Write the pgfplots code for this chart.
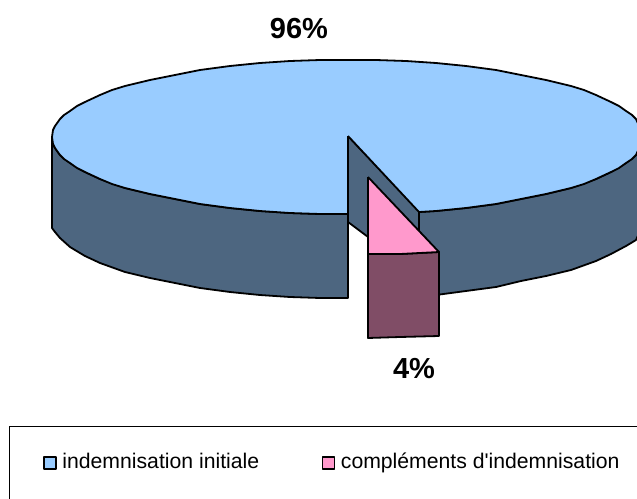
\documentclass[border=0pt]{standalone}
\usepackage{pgfplots}
\pgfplotsset{compat=1.18}
\usepackage{fontspec}
\setmainfont{Liberation Sans}
\definecolor{blueT}{HTML}{99CCFF}
\definecolor{blueS}{HTML}{4D6680}
\definecolor{pinkT}{HTML}{FF99CC}
\definecolor{pinkS}{HTML}{804D66}
\begin{document}
\begin{tikzpicture}
\begin{axis}[
  width=637pt,height=498pt,scale only axis,
  xmin=0,xmax=637,ymin=0,ymax=498,y dir=reverse,
  hide axis,
  every axis plot/.append style={line width=1.8pt,line join=round,draw=black},
  legend columns=2,
  legend style={at={(axis cs:43,463)},anchor=west,draw=none,fill=none,font=\fontsize{21.2}{24}\selectfont,
    /tikz/every even column/.append style={column sep=60.5pt},inner sep=0pt,
    nodes={inner sep=2pt,text depth=4.5pt}},
  legend image code/.code={\draw[#1,line width=1.4pt] (0pt,-6pt) rectangle (12pt,6pt);\path[draw=none,fill=none] (0pt,0pt) -- (16.5pt,0pt);},
]
% side, left part
\addplot[fill=blueS,forget plot] coordinates {
(52,137)(52,228)(55,232)(60,238)(70,247)(85,256)(100,263)(125,272)(150,278)(175,283)(200,288)(230,292)(260,295)(290,297)(320,298)(348,298)(348,214)
(320,214)(290,213)(260,211)(230,208)(200,204)(175,199)(150,194)(125,188)(100,179)(85,172)(70,163)(60,155)(55,148)(53,144)(52,137)};
% side, right part
\addplot[fill=blueS,forget plot] coordinates {
(419,212)(419,296)(436,295)(466,291)(496,287)(521,281)(546,276)(571,270)(596,261)(611,254)(626,246)(636,240)(644,222)(644,137)
(636,155)(626,163)(611,172)(596,179)(571,188)(546,194)(521,199)(496,204)(466,208)(436,211)(419,212)};
% cut wall
\addplot[fill=blueS,forget plot] coordinates {(348,136)(419,211)(419,275)(348,222)(348,136)};
% top face of the large slice
\addplot[fill=blueT,forget plot] coordinates {
(348,136)(348,214)(320,214)(290,213)(260,211)(230,208)(200,204)(175,199)(150,194)(125,188)(112,184)(100,179)(85,172)(77,168)(70,163)(64,159)(60,155)(55,148)(53,144)(52,137)
(53,130)(55,126)(60,119)(64,115)(70,111)(77,106)(85,102)(100,95)(112,90)(125,86)(150,80)(175,75)(200,70)(230,66)(260,63)(290,61)(320,60)(348,60)
(376,60)(406,61)(436,63)(466,66)(496,70)(521,75)(546,80)(571,86)(584,90)(596,95)(611,102)(619,106)(626,111)(632,115)(636,119)(644,137)
(636,155)(632,159)(626,163)(619,168)(611,172)(596,179)(584,184)(571,188)(546,194)(521,199)(496,204)(466,208)(436,211)(419,212)(348,136)};
% pulled-out slice
\addplot[fill=pinkS,forget plot] coordinates {(368,254)(400,254)(439,252)(439,336)(400,337)(368,338)(368,254)};
\addplot[fill=pinkT,forget plot] coordinates {(368,177)(439,252)(400,254)(368,254)(368,177)};
% legend frame
\addplot[draw=black,line width=1pt,forget plot] coordinates {(9,510)(9,426)(650,426)};
% legend entries
\addlegendimage{fill=blueT,draw=black}
\addlegendentry{indemnisation initiale}
\addlegendimage{fill=pinkT,draw=black}
\addlegendentry{compléments d\textquotesingle indemnisation}
\node[font=\fontsize{29}{30}\selectfont\bfseries] at (axis cs:299,29) {96\%};
\node[font=\fontsize{29}{30}\selectfont\bfseries] at (axis cs:414,369) {4\%};
\path (axis cs:0,0) rectangle (axis cs:637,498);
\end{axis}
\end{tikzpicture}
\end{document}
